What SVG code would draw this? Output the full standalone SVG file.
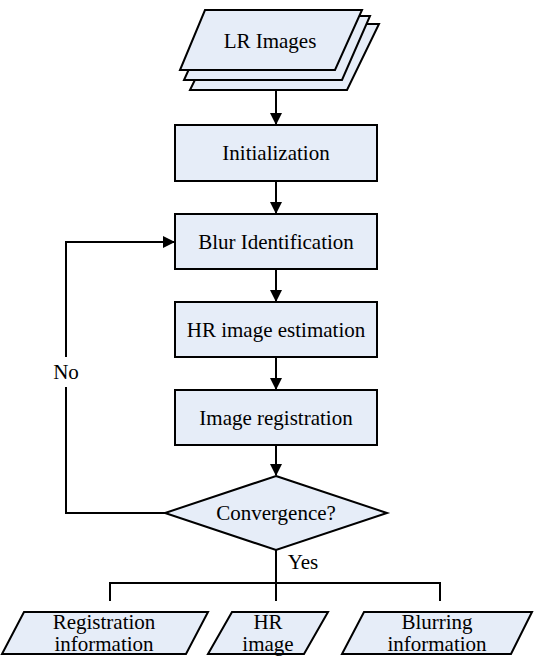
<svg xmlns="http://www.w3.org/2000/svg" width="534" height="665" viewBox="0 0 534 665">
  <defs>
    <marker id="arrow" markerWidth="12" markerHeight="12" refX="11" refY="6" orient="auto" markerUnits="userSpaceOnUse">
      <path d="M0,0 L12,6 L0,12 Z" fill="#000"/>
    </marker>
    <style>
      .shape { fill: #e6edf8; stroke: #000; stroke-width: 2; stroke-linejoin: miter; }
      .line { fill: none; stroke: #000; stroke-width: 2; }
      .label { font-family: 'Liberation Serif', 'Times New Roman', serif; font-size: 21px; fill: #000; text-anchor: middle; }
    </style>
  </defs>
  <rect width="534" height="665" fill="#fff"/>

  <!-- connectors -->
  <g id="connectors">
    <line class="line" x1="276" y1="90" x2="276" y2="124" marker-end="url(#arrow)"/>
    <line class="line" x1="276" y1="181" x2="276" y2="213" marker-end="url(#arrow)"/>
    <line class="line" x1="276" y1="269" x2="276" y2="301" marker-end="url(#arrow)"/>
    <line class="line" x1="276" y1="357" x2="276" y2="389" marker-end="url(#arrow)"/>
    <line class="line" x1="276" y1="445" x2="276" y2="475" marker-end="url(#arrow)"/>
    <!-- loop back on "No" -->
    <polyline class="line" points="165,513 66,513 66,387"/>
    <polyline class="line" points="66,357 66,242 174,242" marker-end="url(#arrow)"/>
    <text class="label" x="66" y="379">No</text>
    <!-- "Yes" branch to the outputs -->
    <line class="line" x1="276" y1="550" x2="276" y2="601"/>
    <text class="label" x="303" y="569">Yes</text>
    <line class="line" x1="109" y1="583" x2="441" y2="583"/>
    <line class="line" x1="110" y1="582" x2="110" y2="601"/>
    <line class="line" x1="440" y1="582" x2="440" y2="601"/>
  </g>

  <!-- stacked input images -->
  <g id="lr-images">
    <polygon class="shape" points="222,24 379,24 347,90 190,90"/>
    <polygon class="shape" points="213,16 370,16 342,80 184,80"/>
    <polygon class="shape" points="205,10 362,10 335,70 180,70"/>
    <text class="label" x="270" y="48">LR Images</text>
  </g>

  <g id="initialization">
    <rect class="shape" x="175" y="125" width="202" height="56"/>
    <text class="label" x="276" y="160">Initialization</text>
  </g>

  <g id="blur-identification">
    <rect class="shape" x="175" y="214" width="202" height="55"/>
    <text class="label" x="276" y="249">Blur Identification</text>
  </g>

  <g id="hr-estimation">
    <rect class="shape" x="175" y="302" width="202" height="55"/>
    <text class="label" x="276" y="337">HR image estimation</text>
  </g>

  <g id="image-registration">
    <rect class="shape" x="175" y="390" width="202" height="55"/>
    <text class="label" x="276" y="425">Image registration</text>
  </g>

  <g id="convergence">
    <polygon class="shape" points="276,476 387,513 276,550 165,513"/>
    <text class="label" x="276" y="520">Convergence?</text>
  </g>

  <g id="registration-info">
    <polygon class="shape" points="24,612 208,612 186,654 2,654"/>
    <text class="label" x="104" y="629">Registration</text>
    <text class="label" x="104" y="651">information</text>
  </g>

  <g id="hr-image">
    <polygon class="shape" points="232,612 328,612 304,654 208,654"/>
    <text class="label" x="268" y="629">HR</text>
    <text class="label" x="268" y="651">image</text>
  </g>

  <g id="blurring-info">
    <polygon class="shape" points="364,612 532,612 511,654 342,654"/>
    <text class="label" x="437" y="629">Blurring</text>
    <text class="label" x="437" y="651">information</text>
  </g>
</svg>
